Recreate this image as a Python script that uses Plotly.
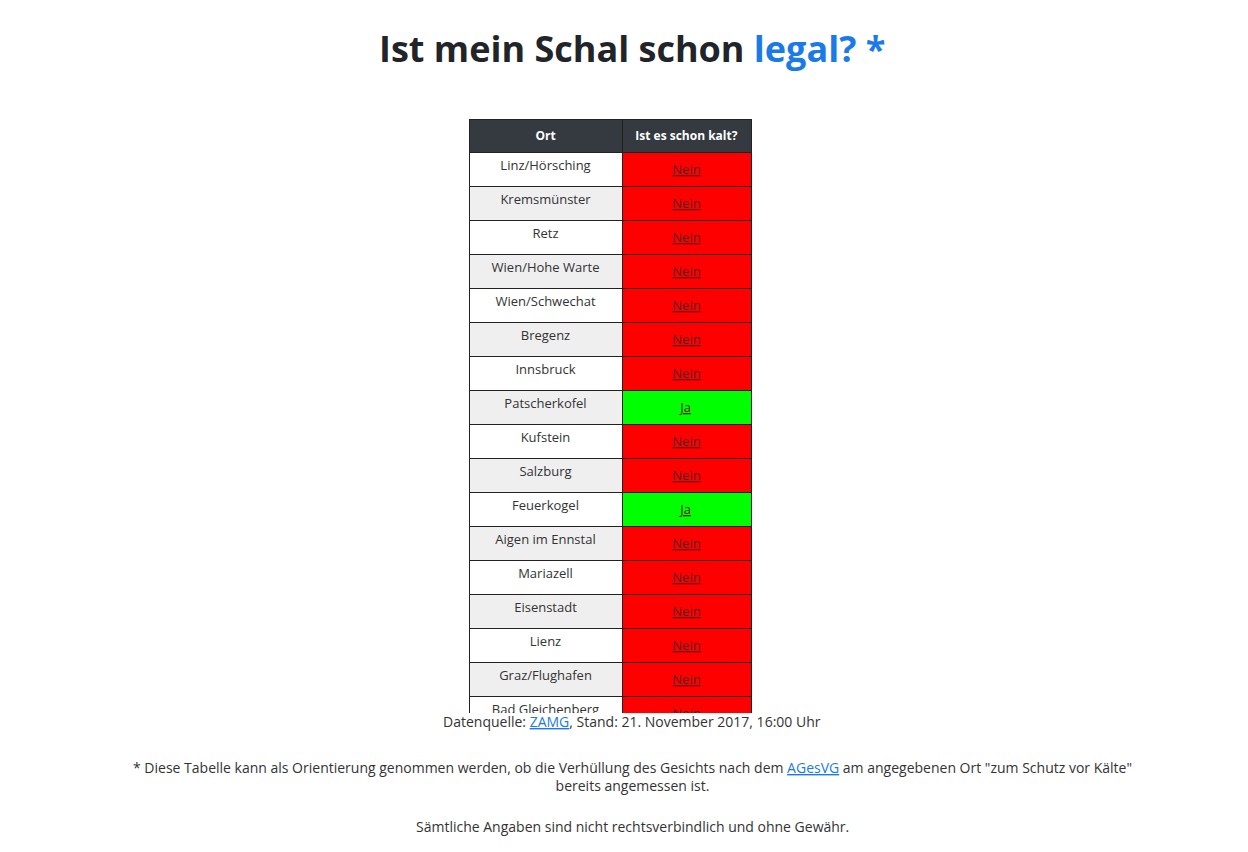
import plotly.graph_objects as go

orte = ["Linz/Hörsching","Kremsmünster","Retz","Wien/Hohe Warte","Wien/Schwechat","Bregenz",
        "Innsbruck","Patscherkofel","Kufstein","Salzburg","Feuerkogel","Aigen im Ennstal",
        "Mariazell","Eisenstadt","Lienz","Graz/Flughafen","Bad Gleichenberg","Villacher Alpe",
        "Klagenfurt/Flughafen","Sonnblick","St. Pölten"]
kalt = ["Nein","Nein","Nein","Nein","Nein","Nein","Nein","Ja","Nein","Nein","Ja","Nein",
        "Nein","Nein","Nein","Nein","Nein","Ja","Nein","Ja","Nein"]
header = ["Ort", "Ist es schon kalt?"]

W, H = 1248, 852
off = 8
ort_fill = ["#ffffff" if i % 2 == 0 else "#efefef" for i in range(len(orte))]
kalt_fill = ["#00ff00" if k == "Ja" else "#ff0000" for k in kalt]
kalt_txt = ["<u>%s</u>" % k for k in kalt]

fig = go.Figure(go.Table(
    domain=dict(x=[(469-off)/W, (752-off)/W], y=[1-(713-off)/H, 1-(119-off)/H]),
    columnwidth=[153, 129],
    header=dict(values=["<b>%s</b>" % h for h in header], fill_color="#343a40",
                line_color="#222", align="center", height=27,
                font=dict(family="Open Sans", size=12, color="white")),
    cells=dict(values=[orte, kalt_txt], fill_color=[ort_fill, kalt_fill],
               line_color="#222", align="center", height=27,
               font=dict(family="Open Sans", size=13, color=["#333333", "#5a1a1a"])),
))

fs = "Open Sans"
fig.update_layout(
    width=W, height=H, margin=dict(l=0, r=0, t=0, b=0),
    paper_bgcolor="white", plot_bgcolor="white",
    annotations=[
        dict(text="<b>Ist mein Schal schon <span style='color:#1a7be8'>legal? *</span></b>",
             x=0.5, y=1-40/H, xref="paper", yref="paper", showarrow=False, yanchor="middle",
             font=dict(family=fs, size=36, color="#212529")),
        dict(text="Datenquelle: <span style='color:#1a7be8'><u>ZAMG</u></span>, Stand: 21. November 2017, 16:00 Uhr",
             x=0.5, y=1-(733-off)/H, xref="paper", yref="paper", showarrow=False,
             font=dict(family=fs, size=14, color="#333")),
        dict(text="* Diese Tabelle kann als Orientierung genommen werden, ob die Verhüllung des Gesichts nach dem <span style='color:#1a7be8'><u>AGesVG</u></span> am angegebenen Ort \"zum Schutz vor Kälte\"<br>bereits angemessen ist.",
             x=0.5, y=1-(797-off)/H, xref="paper", yref="paper", showarrow=False,
             font=dict(family=fs, size=14, color="#333")),
        dict(text="Sämtliche Angaben sind nicht rechtsverbindlich und ohne Gewähr.",
             x=0.5, y=1-(838-off)/H, xref="paper", yref="paper", showarrow=False,
             font=dict(family=fs, size=14, color="#333")),
    ],
)
fig.write_html("out.html")
